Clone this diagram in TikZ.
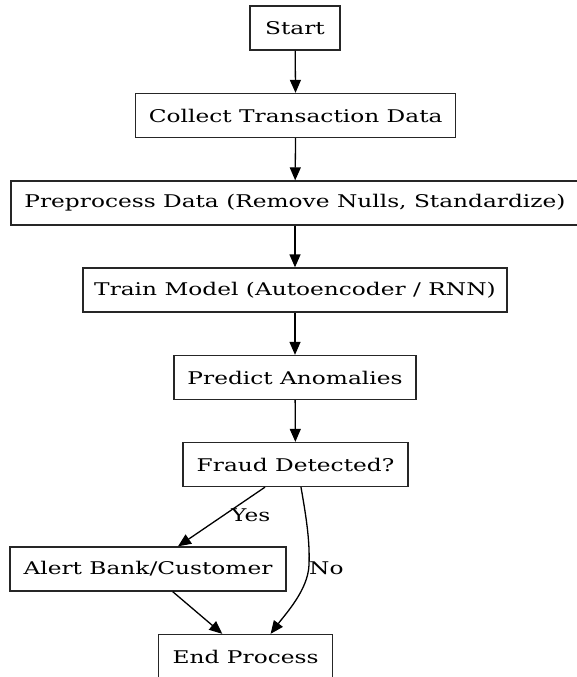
\documentclass[tikz,border=0pt]{standalone}
\usepackage{fontspec}
\setmainfont{DejaVu Serif}[FakeStretch=1.33]
\usetikzlibrary{arrows.meta,calc}
\begin{document}
\begin{tikzpicture}[x=1pt,y=-1pt,
  box/.style={draw=black!85, line width=1.3pt, minimum height=44pt, inner sep=0pt, font=\fontsize{17.5}{20}\selectfont},
  conn/.style={line width=1.3pt, -{Triangle[length=13pt,width=11pt]}},
  lbl/.style={font=\fontsize{17.5}{20}\selectfont, inner sep=0pt}]
\useasboundingbox (0,0) rectangle (576,677);
\node[box, minimum width=90pt]  (start)   at (295,28)    {Start};
\node[box, minimum width=320pt] (collect) at (295.7,115.5) {Collect Transaction Data};
\node[box, minimum width=568pt] (prep)    at (295,203)   {Preprocess Data (Remove Nulls, Standardize)};
\node[box, minimum width=424pt] (train)   at (295,290)   {Train Model (Autoencoder / RNN)};
\node[box, minimum width=242pt] (predict) at (295,377.5) {Predict Anomalies};
\node[box, minimum width=225pt] (fraud)   at (295.5,464.5) {Fraud Detected?};
\node[box, minimum width=276pt] (alert)   at (148,569)   {Alert Bank/Customer};
\node[box, minimum width=174pt] (endp)    at (245.6,656.5) {End Process};
\draw[conn] (start) -- (collect);
\draw[conn] (collect) -- (prep);
\draw[conn] (prep) -- (train);
\draw[conn] (train) -- (predict);
\draw[conn] (predict) -- (fraud);
\draw[conn] ([xshift=-30.5pt]fraud.south) -- ([xshift=30pt]alert.north);
\draw[conn] ([xshift=24.7pt]alert.south) -- ([xshift=-23.3pt]endp.north);
\draw[conn] ([xshift=5.5pt]fraud.south) .. controls +(5,29) and +(1,-25) .. (309,565)
  .. controls +(-1,25) and +(15,-20) .. ([xshift=25pt]endp.north);
\node[lbl, anchor=base west] (yes) at (231,521.7) {Yes};
\node[lbl, anchor=base west] (no) at (309,574) {No};
\end{tikzpicture}
\end{document}
